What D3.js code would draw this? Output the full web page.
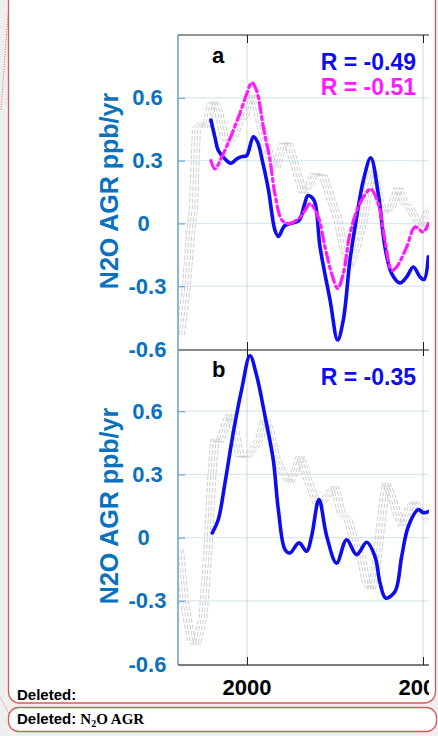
<!DOCTYPE html>
<html>
<head>
<meta charset="utf-8">
<script src="https://cdn.jsdelivr.net/npm/d3@7/dist/d3.min.js"></script>
<style>
  html, body { margin: 0; padding: 0; background: #efefef; }
  svg { display: block; }
</style>
</head>
<body>
<svg id="chart" width="438" height="736"></svg>
<script>
// ---- Panel a: N2O growth-rate anomaly (blue), second estimate (magenta), lagged index (grey)
const aBlueYears = [1998.975, 1999.09, 1999.185, 1999.375, 1999.545, 1999.705, 1999.85, 1999.99, 2000.18, 2000.305, 2000.435, 2000.605, 2000.795, 2000.89, 2001.08, 2001.475, 2001.625, 2001.735, 2001.905, 2002.075, 2002.36, 2002.575, 2002.735, 2002.925, 2003.115, 2003.305, 2003.515, 2003.73, 2003.92, 2004.11, 2004.345, 2004.535, 2004.725, 2004.915, 2005.03, 2005.15];
const aBlueValues = [0.494, 0.411, 0.348, 0.308, 0.287, 0.308, 0.319, 0.324, 0.414, 0.387, 0.30, 0.165, -0.033, -0.062, -0.01, 0.014, 0.086, 0.133, 0.11, -0.113, -0.367, -0.557, -0.462, -0.176, 0.03, 0.205, 0.313, 0.141, -0.113, -0.24, -0.284, -0.256, -0.208, -0.256, -0.268, -0.16];

const aPinkYears = [1998.975, 1999.09, 1999.28, 1999.47, 1999.755, 1999.99, 2000.135, 2000.275, 2000.465, 2000.655, 2000.795, 2001.0, 2001.22, 2001.455, 2001.65, 2001.79, 2002.025, 2002.215, 2002.405, 2002.575, 2002.735, 2002.925, 2003.16, 2003.40, 2003.515, 2003.73, 2003.92, 2004.11, 2004.25, 2004.535, 2004.775, 2005.01, 2005.15];
const aPinkValues = [0.30, 0.26, 0.316, 0.387, 0.506, 0.618, 0.673, 0.633, 0.459, 0.30, 0.14, 0.014, -0.001, 0.022, 0.062, 0.094, 0.03, -0.113, -0.24, -0.311, -0.24, -0.049, 0.078, 0.149, 0.165, 0.094, -0.081, -0.224, -0.208, -0.113, -0.017, -0.041, -0.001];

const aGreyYears = [1998.07, 1998.24, 1998.38, 1998.44, 1998.525, 1998.665, 1998.805, 1998.95, 1999.035, 1999.175, 1999.32, 1999.46, 1999.60, 1999.745, 1999.885, 2000.085, 2000.225, 2000.37, 2000.51, 2000.655, 2000.795, 2000.995, 2001.135, 2001.365, 2001.565, 2001.735, 2001.875, 2002.13, 2002.36, 2002.555, 2002.70, 2002.87, 2003.07, 2003.265, 2003.41, 2003.55, 2003.72, 2003.865, 2004.065, 2004.26, 2004.405, 2004.575, 2004.775, 2004.915, 2005.14];
const aGreyValues = [-0.533, -0.30, -0.01, 0.062, 0.457, 0.481, 0.457, 0.571, 0.586, 0.524, 0.405, 0.386, 0.419, 0.490, 0.505, 0.619, 0.571, 0.457, 0.381, 0.30, 0.267, 0.381, 0.386, 0.252, 0.143, 0.181, 0.238, 0.229, 0.11, 0.014, -0.114, -0.21, -0.114, 0.014, 0.171, 0.252, 0.11, 0.048, 0.076, 0.171, 0.11, 0.076, 0.014, -0.019, 0.076];

// ---- Panel b
const bBlueYears = [1999.015, 1999.185, 1999.375, 1999.61, 1999.85, 2000.085, 2000.275, 2000.51, 2000.745, 2000.89, 2001.08, 2001.22, 2001.475, 2001.695, 2001.835, 2002.045, 2002.265, 2002.545, 2002.83, 2003.115, 2003.40, 2003.635, 2003.78, 2003.94, 2004.205, 2004.395, 2004.585, 2004.87, 2005.01, 2005.17];
const bBlueValues = [0.022, 0.086, 0.26, 0.498, 0.705, 0.863, 0.768, 0.578, 0.371, 0.133, -0.057, -0.073, -0.025, -0.065, 0.006, 0.181, 0.006, -0.121, -0.01, -0.081, -0.022, -0.089, -0.216, -0.287, -0.256, -0.089, 0.054, 0.133, 0.118, 0.125];

const bGreyYears = [1998.045, 1998.19, 1998.38, 1998.525, 1998.715, 1998.855, 1998.95, 1999.045, 1999.185, 1999.375, 1999.47, 1999.61, 1999.755, 1999.945, 2000.135, 2000.32, 2000.465, 2000.605, 2000.795, 2000.985, 2001.175, 2001.315, 2001.475, 2001.65, 2001.835, 2001.98, 2002.17, 2002.45, 2002.64, 2002.83, 2003.02, 2003.21, 2003.35, 2003.495, 2003.635, 2003.78, 2003.92, 2004.065, 2004.255, 2004.395, 2004.585, 2004.725, 2004.915, 2005.17];
const bGreyValues = [-0.057, -0.311, -0.486, -0.51, -0.375, -0.057, 0.26, 0.467, 0.451, 0.546, 0.586, 0.514, 0.387, 0.379, 0.419, 0.467, 0.562, 0.514, 0.371, 0.308, 0.26, 0.308, 0.387, 0.292, 0.213, 0.149, 0.181, 0.244, 0.118, 0.086, -0.025, -0.089, -0.216, -0.248, -0.137, 0.086, 0.26, 0.197, 0.101, 0.054, 0.149, 0.173, 0.118, 0.07];

// lag (years) of each grey index copy
const greyLags = [-0.075, 0.0, 0.075, 0.15];

const yTicks = [-0.6, -0.3, 0, 0.3, 0.6];
const yTickLabels = ["-0.6", "-0.3", "0", "0.3", "0.6"];
const xTicks = [2000, 2005];
const xTickLabels = ["2000", "2005"];
const aLabels = ["R = -0.49", "R = -0.51"];
const bLabels = ["R = -0.35"];

const svg = d3.select("#chart");
const FONT = "'Liberation Sans', Arial, Helvetica, sans-serif";
const SERIF = "'Liberation Serif', 'Times New Roman', serif";
const TICKBLUE = "#0a72bd";

// ---- comment balloons around the figure
svg.append("rect").attr("x", 0).attr("y", 0).attr("width", 438).attr("height", 736).attr("fill", "#efefef");
svg.append("rect").attr("x", 8.5).attr("y", -12).attr("width", 427).attr("height", 715)
  .attr("rx", 11).attr("fill", "#ffffff").attr("stroke", "#dc5a5a").attr("stroke-width", 1.3);
svg.append("rect").attr("x", 8.5).attr("y", 707.5).attr("width", 428).attr("height", 24)
  .attr("rx", 10).attr("fill", "#ffffff").attr("stroke", "#dc5a5a").attr("stroke-width", 1.3);
svg.append("line").attr("x1", 8).attr("y1", 14).attr("x2", 1).attr("y2", 110)
  .attr("stroke", "#d86060").attr("stroke-width", 0.9).attr("stroke-dasharray", "1,1.5");
svg.append("line").attr("x1", 0).attr("y1", 697).attr("x2", 9).attr("y2", 713)
  .attr("stroke", "#d86060").attr("stroke-width", 0.9).attr("stroke-dasharray", "1,1.5");

svg.append("text").attr("x", 17).attr("y", 700).attr("font-family", FONT).attr("font-weight", "bold")
  .attr("font-size", 15).attr("fill", "#000").text("Deleted:");
const del2 = svg.append("text").attr("x", 17).attr("y", 723.5).attr("font-family", FONT)
  .attr("font-weight", "bold").attr("font-size", 15).attr("fill", "#000");
del2.append("tspan").text("Deleted: ");
del2.append("tspan").attr("font-family", SERIF).text("N");
del2.append("tspan").attr("font-family", SERIF).attr("font-size", 10).attr("dy", 3).text("2");
del2.append("tspan").attr("font-family", SERIF).attr("dy", -3).text("O AGR");

// ---- chart geometry
const plotLeft = 178, plotRight = 429;
const x = d3.scaleLinear().domain([2000, 2005]).range([247, 423]);

const defs = svg.append("defs");
defs.append("clipPath").attr("id", "chartArea").append("rect")
  .attr("x", 0).attr("y", 0).attr("width", plotRight).attr("height", 736);

const chart = svg.append("g").attr("clip-path", "url(#chartArea)");

const panels = [
  { id: "a", top: 35, bottom: 349, yRange: [349, 35], letter: "a", letterY: 63,
    grey: [aGreyYears, aGreyValues],
    series: [
      { years: aBlueYears, values: aBlueValues, color: "#0d0df0", width: 3.6, dash: null },
      { years: aPinkYears, values: aPinkValues, color: "#ff1aff", width: 3.2, dash: "10,4,3,4" }
    ],
    labels: aLabels, labelColors: ["#0d0df0", "#ff1aff"], labelY: [70, 95] },
  { id: "b", top: 350, bottom: 664, yRange: [664, 348], letter: "b", letterY: 377,
    grey: [bGreyYears, bGreyValues],
    series: [
      { years: bBlueYears, values: bBlueValues, color: "#0d0df0", width: 3.6, dash: null }
    ],
    labels: bLabels, labelColors: ["#0d0df0"], labelY: [385] }
];

panels.forEach(p => {
  const y = d3.scaleLinear().domain([-0.6, 0.9]).range(p.yRange);
  const g = chart.append("g");

  defs.append("clipPath").attr("id", "plot-" + p.id).append("rect")
    .attr("x", plotLeft).attr("y", p.top).attr("width", plotRight - plotLeft).attr("height", p.bottom - p.top);

  // grid
  g.selectAll(".hgrid").data(yTicks.filter(v => y(v) > p.top + 2 && y(v) < p.bottom - 2)).join("line")
    .attr("x1", plotLeft).attr("x2", plotRight).attr("y1", d => y(d)).attr("y2", d => y(d))
    .attr("stroke", "#d9e8f1").attr("stroke-width", 1.2);
  g.selectAll(".vgrid").data(xTicks).join("line")
    .attr("x1", d => x(d)).attr("x2", d => x(d)).attr("y1", p.top).attr("y2", p.bottom)
    .attr("stroke", "#d4d6d8").attr("stroke-width", 1);

  const plot = g.append("g").attr("clip-path", "url(#plot-" + p.id + ")");

  // lagged grey index copies
  const greyData = p.grey[0].map((yr, i) => [yr, p.grey[1][i]]);
  greyLags.forEach(lag => {
    plot.append("path")
      .datum(greyData)
      .attr("fill", "none").attr("stroke", "#bdbdbd").attr("stroke-width", 0.75)
      .attr("stroke-dasharray", "4.5,1.8")
      .attr("d", d3.line().x(d => x(d[0] + lag)).y(d => y(d[1])).curve(d3.curveLinear));
  });

  // smoothed series
  p.series.forEach(s => {
    const data = s.years.map((yr, i) => [yr, s.values[i]]);
    plot.append("path").datum(data)
      .attr("fill", "none").attr("stroke", s.color).attr("stroke-width", s.width)
      .attr("stroke-linecap", "round").attr("stroke-linejoin", "round")
      .attr("stroke-dasharray", s.dash)
      .attr("d", d3.line().x(d => x(d[0])).y(d => y(d[1])).curve(d3.curveCatmullRom.alpha(0.5)));
  });

  // y axis
  const yAxis = g.append("g").attr("transform", `translate(${plotLeft},0)`)
    .call(d3.axisRight(y).tickValues(yTicks).tickSize(7).tickFormat(""));
  yAxis.select(".domain").attr("d", `M0,${p.top}V${p.bottom + 1}`).attr("stroke", "#6aa8d0").attr("stroke-width", 1.6);
  yAxis.selectAll(".tick line").attr("stroke", "#6aa8d0").attr("stroke-width", 1.2);

  g.selectAll(".ytl").data(yTicks).join("text")
    .attr("x", (d, i) => i === 2 ? 143.5 : 147.5).attr("y", d => y(d) + 7.5)
    .attr("text-anchor", "middle").attr("font-family", FONT).attr("font-weight", "bold")
    .attr("font-size", 22).attr("fill", TICKBLUE)
    .text((d, i) => yTickLabels[i]);

  // y label
  g.append("text")
    .attr("transform", `translate(118,${(p.top + p.bottom) / 2 - 1}) rotate(-90)`)
    .attr("text-anchor", "middle").attr("font-family", FONT).attr("font-weight", "bold")
    .attr("font-size", 25).attr("fill", TICKBLUE).text("N2O AGR ppb/yr");

  // panel letter
  g.append("text").attr("x", 212).attr("y", p.letterY).attr("font-family", FONT)
    .attr("font-weight", "bold").attr("font-size", 22).attr("fill", "#000").text(p.letter);

  // correlation labels
  p.labels.forEach((t, i) => {
    g.append("text").attr("x", 416).attr("y", p.labelY[i]).attr("text-anchor", "end")
      .attr("font-family", FONT).attr("font-weight", "bold").attr("font-size", 23)
      .attr("fill", p.labelColors[i]).text(t);
  });
});

// frame lines with x ticks
const frame = chart.append("g");
const topAxis = frame.append("g").attr("transform", "translate(0,35)")
  .call(d3.axisBottom(x).tickValues(xTicks).tickSize(8).tickFormat(""));
topAxis.select(".domain").attr("d", `M${plotLeft},0H${plotRight + 2}`).attr("stroke", "#2a2a2a").attr("stroke-width", 1.2);
topAxis.selectAll(".tick line").attr("stroke", "#222");

const midAxis = frame.append("g").attr("transform", "translate(0,350)")
  .call(d3.axisBottom(x).tickValues(xTicks).tickSizeInner(6).tickSizeOuter(0).tickFormat(""));
midAxis.select(".domain").attr("d", `M${plotLeft},0H${plotRight + 2}`).attr("stroke", "#8a8a8a").attr("stroke-width", 2);
midAxis.selectAll(".tick line").attr("y1", -8).attr("stroke", "#222");

const botAxis = frame.append("g").attr("transform", "translate(0,665)")
  .call(d3.axisTop(x).tickValues(xTicks).tickSizeInner(8).tickSizeOuter(0).tickFormat(""));
botAxis.select(".domain").attr("d", `M${plotLeft},0H${plotRight + 2}`).attr("stroke", "#7a7a7a").attr("stroke-width", 2);
botAxis.selectAll(".tick line").attr("stroke", "#222");

frame.selectAll(".xtl").data(xTicks).join("text")
  .attr("x", d => x(d)).attr("y", 695).attr("text-anchor", "middle")
  .attr("font-family", FONT).attr("font-weight", "bold").attr("font-size", 22).attr("fill", "#000")
  .text((d, i) => xTickLabels[i]);
</script>
</body>
</html>
